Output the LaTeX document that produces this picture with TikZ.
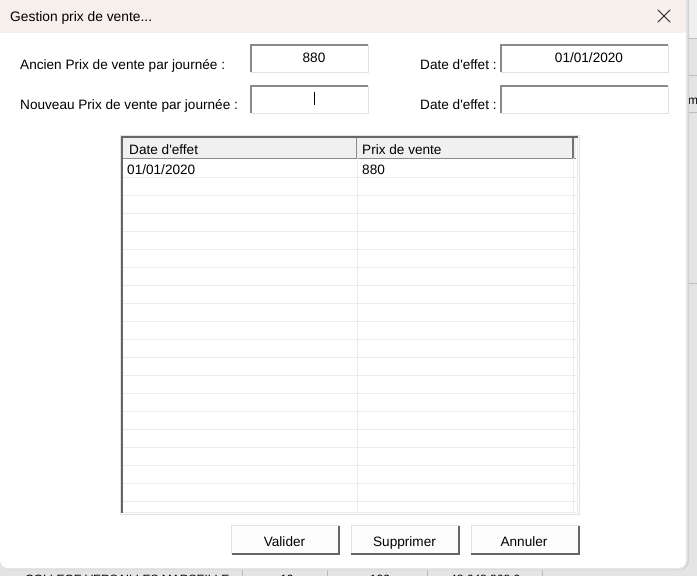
\documentclass[tikz,border=0pt]{standalone}
\usepackage{fontspec}
\setmainfont{Liberation Sans}[Ligatures=TeXOff]
\begin{document}
\begin{tikzpicture}[x=1pt,y=-1pt,
  lbl/.style={inner sep=0pt,font=\fontsize{13.6}{16}\selectfont},
  ttl/.style={inner sep=0pt,font=\fontsize{13.8}{16}\selectfont},
  field/.style={fill=white,draw=none,inner sep=0pt,minimum width=117pt,minimum height=27pt},
  datefield/.style={fill=white,draw=none,inner sep=0pt,minimum width=167pt,minimum height=27pt},
  darkb/.style={draw=fieldDark,line width=2pt},
  lightb/.style={draw=fieldLight,line width=1pt},
  btn/.style={fill=btnFill,draw=none,inner sep=0pt,minimum width=107pt,minimum height=28pt},
  grid/.style={draw=gridGrey,line width=0.8pt},
  bgtxt/.style={inner sep=0pt,font=\fontsize{12}{14}\selectfont,anchor=base west}
]
\definecolor{bgGrey}{HTML}{E4E4E4}
\definecolor{titleFill}{HTML}{F7EFEC}
\definecolor{fieldDark}{HTML}{8A8A8A}
\definecolor{fieldLight}{HTML}{E2E2E2}
\definecolor{btnFill}{HTML}{FDFDFD}
\definecolor{gridGrey}{HTML}{EBEBEB}
\definecolor{headFill}{HTML}{F0F0F0}
\definecolor{cellLine}{HTML}{BDBDBD}
\definecolor{selGreen}{HTML}{1E6B3A}
\useasboundingbox (0,0) rectangle (697,576);
\clip (0,0) rectangle (697,576);
% background (spreadsheet behind dialog)
\fill[bgGrey] (0,0) rectangle (697,576);
\fill[white!94!black] (686,0) rectangle (697,38);
\foreach \yy in {38,75,112,283} \draw[cellLine,line width=0.8pt] (686,\yy) -- (697,\yy);
\node[bgtxt] (bgm) at (688,104) {m};
\foreach \xx in {242,327,427,542} \draw[cellLine,line width=0.8pt] (\xx,568) -- (\xx,576);
\draw[selGreen,line width=1.2pt] (327,569) -- (427,569);
\node[bgtxt] (bg1) at (25,583) {COLLEGE VERSAILLES MARSEILLE};
\node[bgtxt,anchor=base] (bg2) at (287,583) {10};
\node[bgtxt,anchor=base] (bg3) at (380,583) {102};
\node[bgtxt] (bg4) at (450,583) {48 648 868,0};
% dialog shadow
\fill[black!18] (1,-10) [rounded corners=9pt] -- (1,570) -- (689,570) -- (689,-10) -- cycle;
\fill[black!10] (0,-10) [rounded corners=9pt] -- (0,569.5) -- (687.5,569.5) -- (687.5,-10) -- cycle;
% dialog
\begin{scope}
\clip[rounded corners=8pt] (0,-10) rectangle (686,568);
\fill[white] (0,-10) rectangle (686,568);
\fill[titleFill] (0,-10) rectangle (686,33);
\end{scope}
\node[ttl,anchor=base west] (title) at (10,21.5) {Gestion prix de vente...};
\node[inner sep=0pt,minimum size=12pt] (closebtn) at (664,16) {};
\draw[black!85,line width=0.9pt] (closebtn.north west) -- (closebtn.south east);
\draw[black!85,line width=0.9pt] (closebtn.south west) -- (closebtn.north east);
% row 1
\node[lbl,anchor=base west] (l1) at (20,69) {Ancien Prix de vente par journée :};
\node[field] (f1) at (309.5,58.5) {};
\node[lbl] (f1txt) at (314,58) {880};
\node[lbl,anchor=base west] (l2) at (420,69) {Date d'effet :};
\node[datefield] (f2) at (584.5,58.5) {};
\node[lbl] (f2txt) at (589,58) {01/01/2020};
% row 2
\node[lbl,anchor=base west] (l3) at (20,109) {Nouveau Prix de vente par journée :};
\node[field] (f3) at (309.5,99.5) {};
\node[lbl,anchor=base west] (l4) at (420,109) {Date d'effet :};
\node[datefield] (f4) at (584.5,99.5) {};
\coordinate (cur1) at (314,92);
\coordinate (cur2) at (314,105);
\draw[black,line width=1pt] (cur1) -- (cur2);
\foreach \f in {f1,f2,f3,f4}{
  \draw[lightb] (\f.north east) -- (\f.south east) -- (\f.south west);
  \draw[darkb] (\f.south west) -- (\f.north west) -- (\f.north east);
}
% list box
\node[fill=white,draw=fieldLight,line width=1pt,inner sep=0pt,minimum width=459pt,minimum height=379pt] (lst) at (350,325) {};
\fill[headFill] (123,138) rectangle (576,158);
\draw[black!45,line width=0.8pt] (123,158) -- (576,158);
\draw[black!45,line width=0.9pt] (356.5,138) -- (356.5,158);
\draw[black!55,line width=1.6pt] (573,138) -- (573,158);
\foreach \k in {0,...,18} \draw[grid] (123,177+18*\k) -- (577,177+18*\k);
\draw[grid] (357,158) -- (357,512);
\draw[grid] (573,158) -- (573,512);
\draw[grid] (577,138) -- (577,512);
\draw[grid] (123,512) -- (578,512);
\draw[black!60,line width=2pt] (122,513) -- (122,136.5) -- (578,136.5);
\node[lbl,anchor=base west] (h1) at (129,154) {Date d'effet};
\node[lbl,anchor=base west] (h2) at (362,154) {Prix de vente};
\node[lbl,anchor=base west] (c1) at (127,174) {01/01/2020};
\node[lbl,anchor=base west] (c2) at (362,174) {880};
% buttons
\node[btn] (b1) at (285.5,540) {};
\node[btn] (b2) at (405,540) {};
\node[btn] (b3) at (525,540) {};
\foreach \b in {b1,b2,b3}{
  \draw[draw=fieldLight,line width=1pt] (\b.south west) -- (\b.north west) -- (\b.north east);
  \draw[draw=black!60,line width=2pt] (\b.north east) -- (\b.south east) -- (\b.south west);
}
\node[lbl,anchor=base] (b1txt) at (284.5,546) {Valider};
\node[lbl,anchor=base] (b2txt) at (404.5,546) {Supprimer};
\node[lbl,anchor=base] (b3txt) at (524,546) {Annuler};
\end{tikzpicture}
\end{document}
